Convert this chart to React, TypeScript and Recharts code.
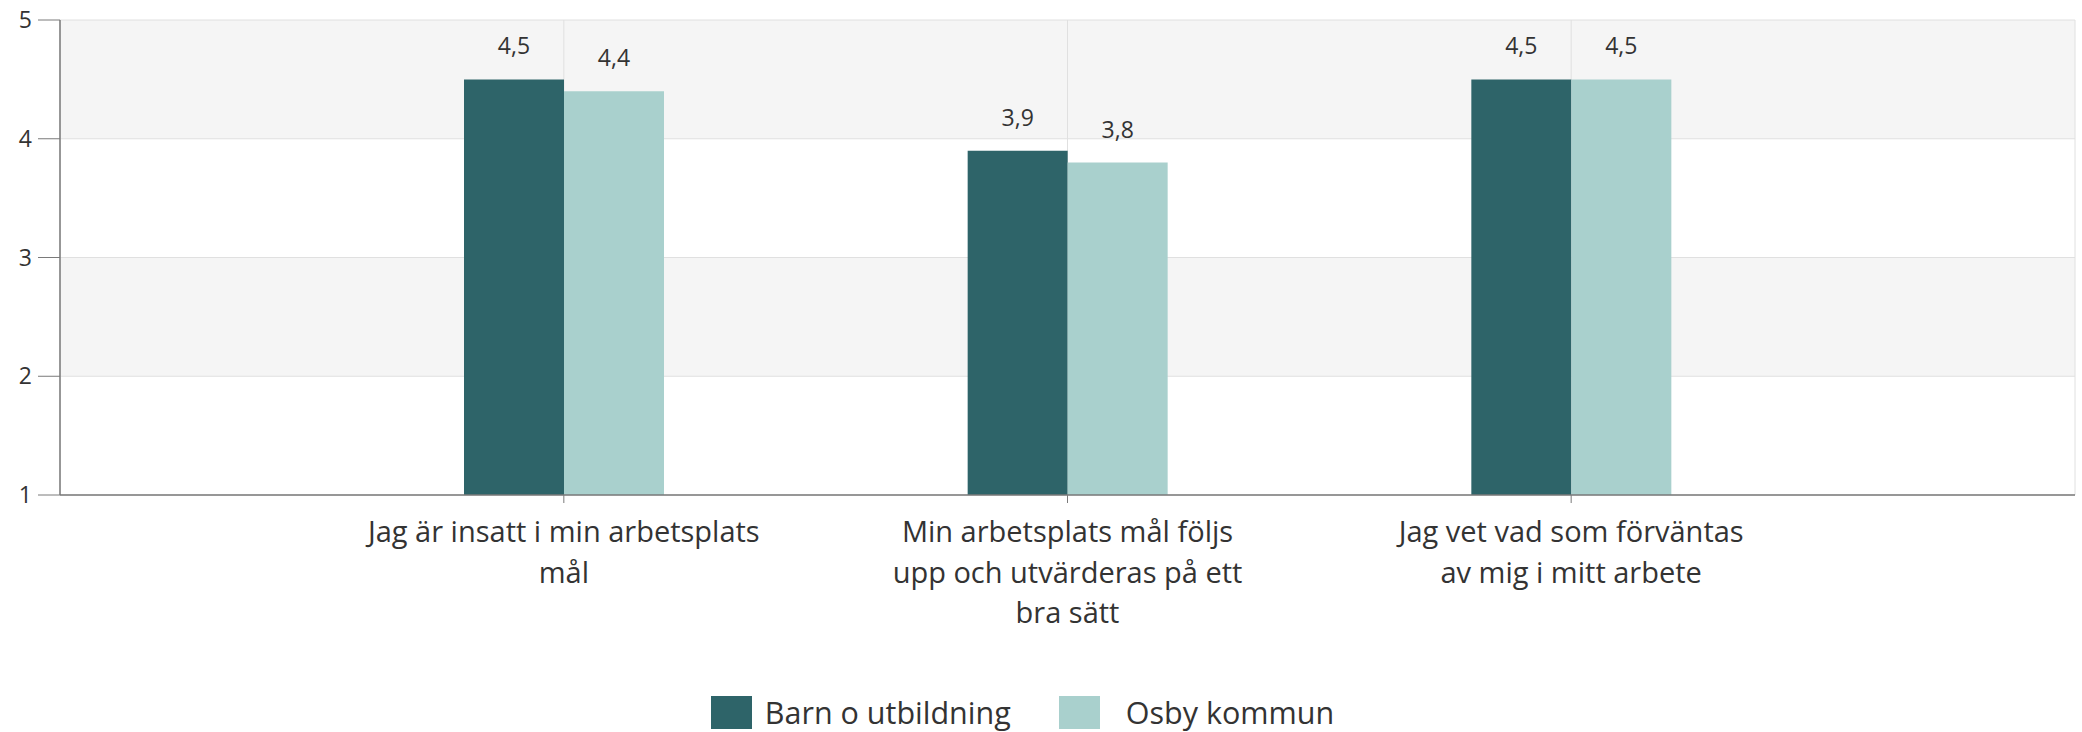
import React from 'react';
import { BarChart, Bar, XAxis, YAxis, CartesianGrid, Legend, LabelList } from 'recharts';

const categories = [
  'Jag är insatt i min arbetsplats mål',
  'Min arbetsplats mål följs upp och utvärderas på ett bra sätt',
  'Jag vet vad som förväntas av mig i mitt arbete',
];
const categoryLines = [
  ['Jag är insatt i min arbetsplats', 'mål'],
  ['Min arbetsplats mål följs', 'upp och utvärderas på ett', 'bra sätt'],
  ['Jag vet vad som förväntas', 'av mig i mitt arbete'],
];
const barnUtbildning = [4.5, 3.9, 4.5];
const osbyKommun = [4.4, 3.8, 4.5];
const yTicks = [1, 2, 3, 4, 5];
const seriesNames = ['Barn o utbildning', 'Osby kommun'];
const seriesColors = ['#2e6469', '#a9d0cd'];

const data = categories.map((c, i) => ({
  name: c,
  barn: barnUtbildning[i],
  osby: osbyKommun[i],
}));

const FONT = '"Open Sans", sans-serif';
const TEXT = '#333333';
const AXIS = '#7a7a7a';

const fmt = (v: any) => String(v).replace('.', ',');

const CategoryTick = (props: any) => {
  const { x, y, payload } = props;
  const idx = categories.indexOf(payload.value);
  const lines = idx >= 0 ? categoryLines[idx] : [String(payload.value)];
  return (
    <text x={x} y={y} textAnchor="middle" fill={TEXT} fontSize={29} fontFamily={FONT}>
      {lines.map((l, i) => (
        <tspan key={i} x={x} dy={i === 0 ? 37 : 40.5}>
          {l}
        </tspan>
      ))}
    </text>
  );
};

const renderLegend = () => (
  <div
    style={{
      display: 'flex',
      justifyContent: 'center',
      alignItems: 'center',
      height: 40,
      paddingRight: 30,
      fontFamily: FONT,
      fontSize: 30.5,
      color: TEXT,
      boxSizing: 'border-box',
    }}
  >
    {seriesNames.map((n, i) => (
      <div key={n} style={{ display: 'flex', alignItems: 'center', marginLeft: i ? 48 : 0 }}>
        <div style={{ width: 41, height: 33, background: seriesColors[i], marginRight: i ? 26 : 13 }} />
        <span>{n}</span>
      </div>
    ))}
  </div>
);

export default function App() {
  return (
    <div style={{ position: 'absolute', left: 0, top: 0, background: '#fff' }}>
      <BarChart
        width={2082}
        height={732}
        data={data}
        margin={{ top: 20, right: 7, bottom: 0, left: 0 }}
        barGap={0}
        style={{ fontFamily: FONT }}
      >
        <CartesianGrid
          yAxisId="left"
          stroke="#e0e0e0"
          horizontalFill={['#f5f5f5', '#ffffff']}
          fillOpacity={1}
          vertical={true}
          horizontal={true}
        />
        <XAxis
          dataKey="name"
          padding={{ left: 252, right: 252 }}
          height={197}
          interval={0}
          tickSize={8}
          tickMargin={2}
          tickLine={{ stroke: AXIS }}
          axisLine={{ stroke: AXIS, strokeWidth: 1.5 }}
          tick={<CategoryTick />}
        />
        <YAxis
          yAxisId="left"
          type="number"
          domain={[1, 5]}
          ticks={yTicks}
          interval={0}
          width={60}
          tickSize={22}
          tickMargin={6}
          tickLine={{ stroke: AXIS }}
          axisLine={{ stroke: AXIS, strokeWidth: 1.5 }}
          tick={{ fill: TEXT, fontSize: 23, fontFamily: FONT }}
        />
        <YAxis
          yAxisId="right"
          orientation="right"
          width={0}
          tick={false}
          tickLine={false}
          axisLine={{ stroke: '#dddddd' }}
        />
        <Legend verticalAlign="bottom" content={renderLegend} />
        <Bar
          yAxisId="left"
          dataKey="barn"
          name={seriesNames[0]}
          fill={seriesColors[0]}
          barSize={100}
          isAnimationActive={false}
        >
          <LabelList dataKey="barn" position="top" offset={25} formatter={fmt} fill={TEXT} fontSize={23} fontFamily={FONT} />
        </Bar>
        <Bar
          yAxisId="left"
          dataKey="osby"
          name={seriesNames[1]}
          fill={seriesColors[1]}
          barSize={100}
          isAnimationActive={false}
        >
          <LabelList dataKey="osby" position="top" offset={25} formatter={fmt} fill={TEXT} fontSize={23} fontFamily={FONT} />
        </Bar>
      </BarChart>
    </div>
  );
}
